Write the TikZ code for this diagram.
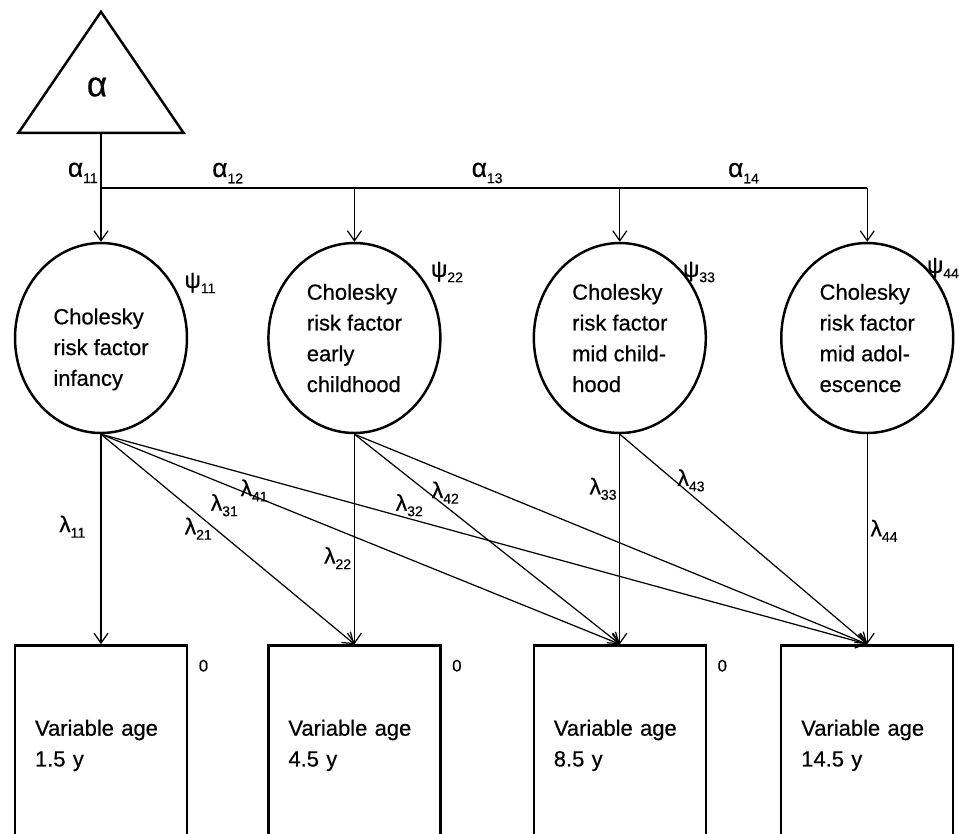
\documentclass[tikz,border=0pt]{standalone}
\usepackage{fontspec}
\setmainfont{Liberation Sans}[FakeBold=0.5]
\usetikzlibrary{positioning, shapes.geometric, arrows.meta}

\newcommand{\coef}[2]{#1\raisebox{-0.45ex}{\fontsize{8}{8}\selectfont #2}}

\begin{document}
\begin{tikzpicture}[x=0.02cm, y=-0.02cm, line width=0.7pt,
>={Straight Barb[length=2mm, width=2.8mm]},
latentnode/.style={ellipse, draw, line width=1.4pt, minimum width=3.44cm, minimum height=3.8cm, inner sep=0pt, align=left, font=\fontsize{12.5}{17.5}\selectfont},
observednode/.style={rectangle, draw, line width=1.4pt, minimum width=3.44cm, minimum height=4cm, inner xsep=0.4cm, text width=2.64cm, align=left, font=\fontsize{12.5}{17.5}\selectfont},
interceptnode/.style={isosceles triangle, shape border rotate=90, isosceles triangle stretches, draw, line width=1.4pt, minimum width=3.3cm, minimum height=2.42cm, inner sep=0pt},
coefnode/.style={font=\fontsize{13}{13}\selectfont, inner sep=1.5pt},
alphanode/.style={font=\fontsize{15}{15}\selectfont, inner sep=1.5pt},
zeronode/.style={font=\fontsize{9.5}{9.5}\selectfont, inner sep=0pt},
]
\useasboundingbox (0,0) rectangle (959,833);
\clip (0,0) rectangle (959,833);

%Nodes
\node[interceptnode, anchor=south] (T)    at (101,134)   {};
\node[font=\fontsize{20}{20}\selectfont] (alpha) at (97,87) {α};
\node[latentnode]      (F1)    at (101,338)              {\rule{0pt}{22pt}Cholesky\\risk factor\\infancy};
\node[latentnode]      (F2)    [right=1.58cm of F1]      {Cholesky\\risk factor\\early\\childhood};
\node[latentnode]      (F3)    [right=1.82cm of F2]      {Cholesky\\risk factor\\mid child-\\hood};
\node[latentnode]      (F4)    [right=1.46cm of F3]      {Cholesky\\risk factor\\mid adol-\\escence};
\node[observednode]    (V1)    [below=4.2cm of F1]       {Variable age\\1.5 y};
\node[observednode]    (V2)    [below=4.2cm of F2]       {Variable age\\4.5 y};
\node[observednode]    (V3)    [below=4.2cm of F3]       {Variable age\\8.5 y};
\node[observednode]    (V4)    [below=4.2cm of F4]       {Variable age\\14.5 y};

\node[coefnode] (psi1) at (200,283) {\coef{ψ}{11}};
\node[coefnode] (psi2) at (447,272) {\coef{ψ}{22}};
\node[coefnode] (psi3) at (699,272) {\coef{ψ}{33}};
\node[coefnode] (psi4) at (943,268) {\coef{ψ}{44}};

\node[zeronode] (z1) [below right=0.3cm and 0.2cm of V1.north east] {0};
\node[zeronode] (z2) [below right=0.3cm and 0.2cm of V2.north east] {0};
\node[zeronode] (z3) [below right=0.3cm and 0.2cm of V3.north east] {0};
\node[zeronode] (z4) [below right=0.3cm and 0.2cm of V4.north east] {0};

%Intercepts
\coordinate (bus) at (0,188);
\draw[->] (T.south) -- (F1.north) node[alphanode, pos=0.36, left] {\coef{α}{11}};
\draw (T.south |- bus) -- (F2.north |- bus) node[alphanode, midway, above=0.03cm] {\coef{α}{12}}
  -- (F3.north |- bus) node[alphanode, midway, above=0.03cm] {\coef{α}{13}}
  -- (F4.north |- bus) node[alphanode, midway, above=0.03cm] {\coef{α}{14}};
\draw[->] (F2.north |- bus) -- (F2.north);
\draw[->] (F3.north |- bus) -- (F3.north);
\draw[->] (F4.north |- bus) -- (F4.north);

%Loadings
\draw[->] (F1.south) -- (V1.north) node[coefnode, pos=0.44, left=0.25cm] {\coef{λ}{11}};
\draw[->] (F1.south) -- (V2.north) node[coefnode, pos=0.45, left] {\coef{λ}{21}};
\draw[->] (F1.south) -- (V3.north) node[coefnode, pos=0.27, below left] {\coef{λ}{31}};
\draw[->] (F1.south) -- (V4.north) node[coefnode, pos=0.2, below] {\coef{λ}{41}};
\draw[->] (F2.south) -- (V2.north) node[coefnode, pos=0.59, left] {\coef{λ}{22}};
\draw[->] (F2.south) -- (V3.north) node[coefnode, pos=0.27, below left] {\coef{λ}{32}};
\draw[->] (F2.south) -- (V4.north) node[coefnode, pos=0.21, below left] {\coef{λ}{42}};
\draw[->] (F3.south) -- (V3.north) node[coefnode, pos=0.26, left] {\coef{λ}{33}};
\draw[->] (F3.south) -- (V4.north) node[coefnode, pos=0.22, right] {\coef{λ}{43}};
\draw[->] (F4.south) -- (V4.north) node[coefnode, pos=0.46, right] {\coef{λ}{44}};
\end{tikzpicture}
\end{document}
